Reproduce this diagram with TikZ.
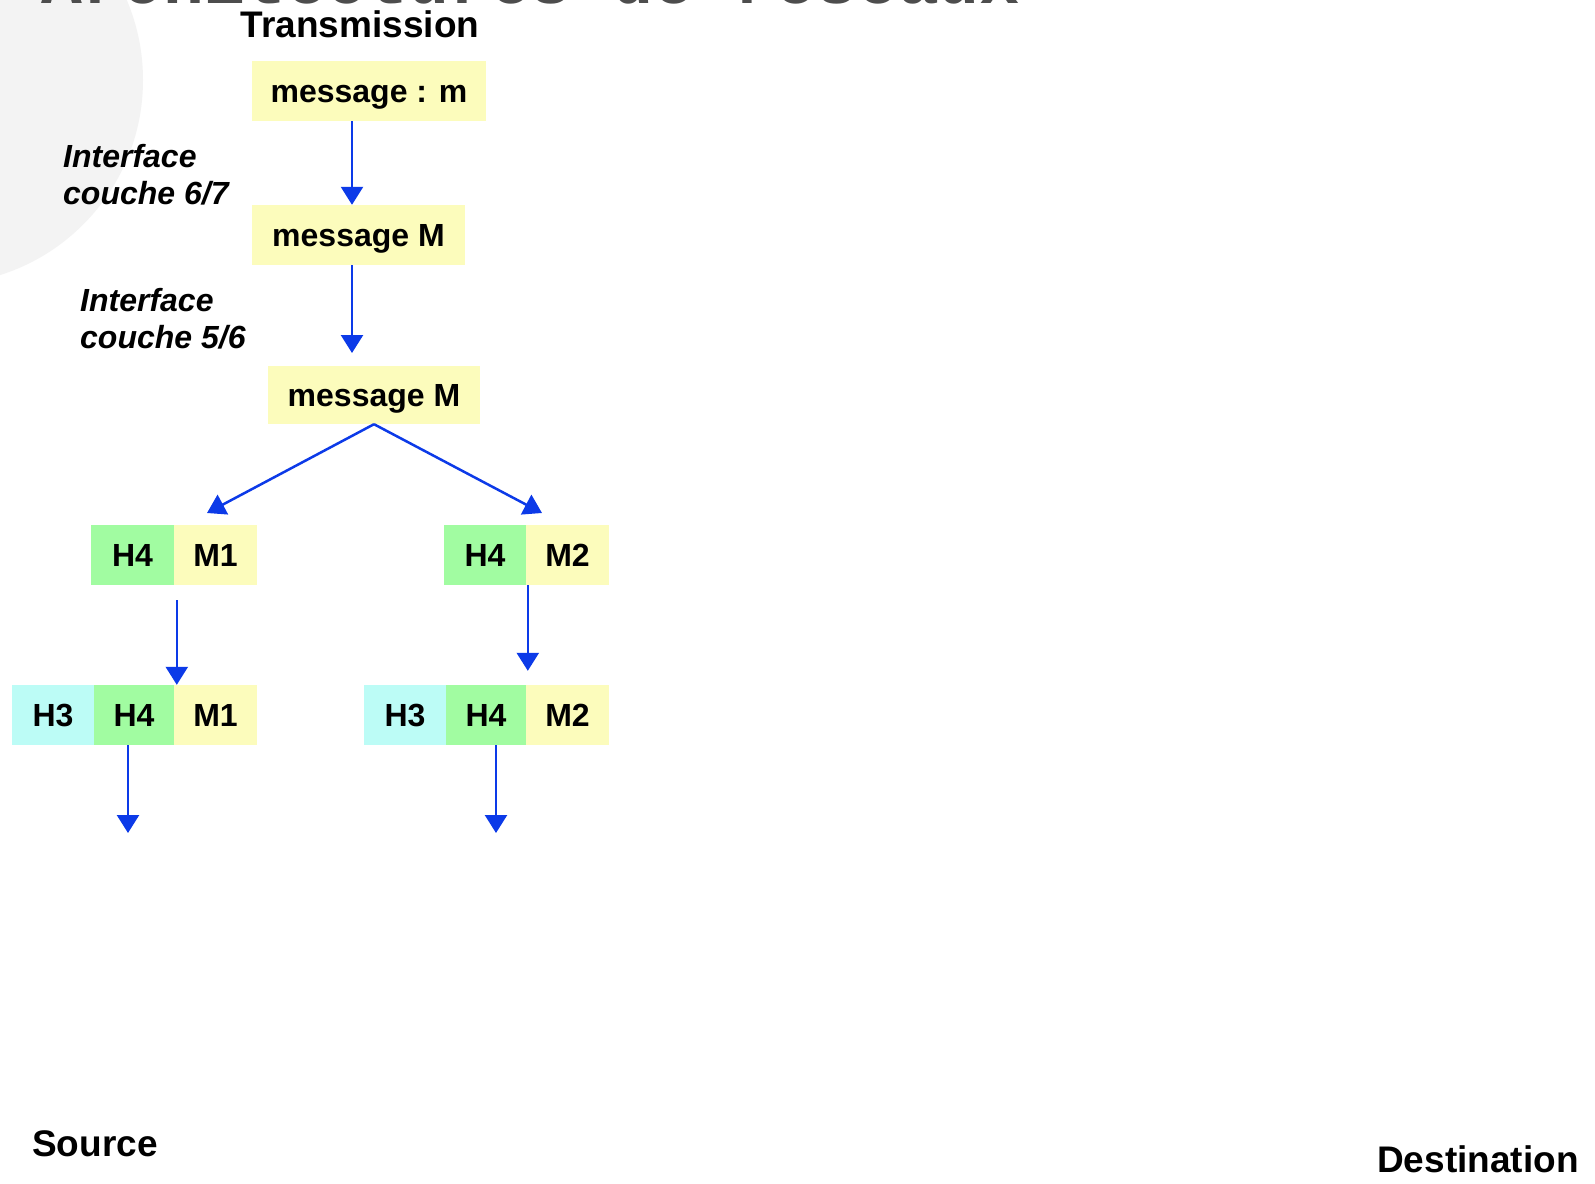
\documentclass[tikz,border=0pt]{standalone}
\usepackage{fontspec}
\setmainfont{Liberation Sans}
\newfontfamily\monofam{Liberation Mono}
\usetikzlibrary{arrows.meta}
\definecolor{boxyellow}{RGB}{252,252,188}
\definecolor{boxgreen}{RGB}{161,252,161}
\definecolor{boxcyan}{RGB}{188,252,246}
\definecolor{arrowblue}{RGB}{12,58,232}
\definecolor{bggray}{RGB}{243,243,243}
\definecolor{titlegray}{RGB}{77,77,77}
\begin{document}
\begin{tikzpicture}[x=1pt,y=-1pt,
  box/.style={inner sep=0pt, minimum height=60pt, text height=23pt, text depth=0pt, font=\fontsize{32}{37}\selectfont\bfseries},
  ybox/.style={box, fill=boxyellow},
  gbox/.style={box, fill=boxgreen},
  cbox/.style={box, fill=boxcyan},
  lbl/.style={inner sep=0pt, anchor=north west, align=left, font=\fontsize{32}{37}\selectfont\bfseries\itshape},
  arr/.style={draw=arrowblue, line width=2.5pt, -{Triangle[width=22pt,length=18pt]}}]
\useasboundingbox (0,0) rectangle (1595,1183);
\clip (0,0) rectangle (1595,1183);
\fill[white] (0,0) rectangle (1595,1183);
\fill[bggray] (-61.5,80) circle[radius=204.5];
\node[anchor=base west, inner sep=0pt, text=titlegray, font=\monofam\bfseries\fontsize{68}{70}\selectfont] (title) at (41,3) {Architectures de réseaux};
\node[anchor=base, inner sep=0pt, font=\fontsize{37}{40}\selectfont\bfseries] (trans) at (360,37) {Transmission};
% boxes
\node[ybox, minimum width=234pt] (mm) at (369,91) {message : m};
\node[ybox, minimum width=213pt] (MM1) at (358.5,235) {message M};
\node[ybox, minimum width=212pt, minimum height=58pt] (MM2) at (374,395) {message M};
\node[gbox, minimum width=83pt] (H4a) at (132.5,555) {H4};
\node[ybox, minimum width=83pt] (M1a) at (215.5,555) {M1};
\node[gbox, minimum width=82pt] (H4b) at (485,555) {H4};
\node[ybox, minimum width=83pt] (M2b) at (567.5,555) {M2};
\node[cbox, minimum width=82pt] (H3c) at (53,715) {H3};
\node[gbox, minimum width=80pt] (H4c) at (134,715) {H4};
\node[ybox, minimum width=83pt] (M1c) at (215.5,715) {M1};
\node[cbox, minimum width=82pt] (H3d) at (405,715) {H3};
\node[gbox, minimum width=80pt] (H4d) at (486,715) {H4};
\node[ybox, minimum width=83pt] (M2d) at (567.5,715) {M2};
% labels
\node[lbl] (if67) at (63,144.5) {Interface\\couche 6/7};
\node[lbl] (if56) at (80,288) {Interface\\couche 5/6};
\node[anchor=base west, inner sep=0pt, font=\fontsize{37}{40}\selectfont\bfseries] (src) at (32,1156) {Source};
\node[anchor=base west, inner sep=0pt, font=\fontsize{37}{40}\selectfont\bfseries] (dst) at (1377,1172) {Destination};
% connectors
\coordinate (ax) at (352,0);
\coordinate (t2) at (352,353);
\coordinate (tL) at (207,513);
\coordinate (tR) at (542,513);
\coordinate (e1) at (128,833);
\coordinate (e2) at (496,833);
\draw[arr] (mm.south -| ax) -- (MM1.north -| ax);
\draw[arr] (MM1.south -| ax) -- (t2);
\draw[arr] (MM2.south) -- (tL);
\draw[arr] (MM2.south) -- (tR);
\draw[arr] ([xshift=3pt,yshift=-15pt]M1a.south west) -- ([xshift=3pt]M1c.north west);
\draw[arr] ([xshift=2pt]M2b.south west) -- ([xshift=2pt,yshift=14pt]M2d.north west);
\draw[arr] (H4c.south -| e1) -- (e1);
\draw[arr] (H4d.south -| e2) -- (e2);
\end{tikzpicture}
\end{document}
